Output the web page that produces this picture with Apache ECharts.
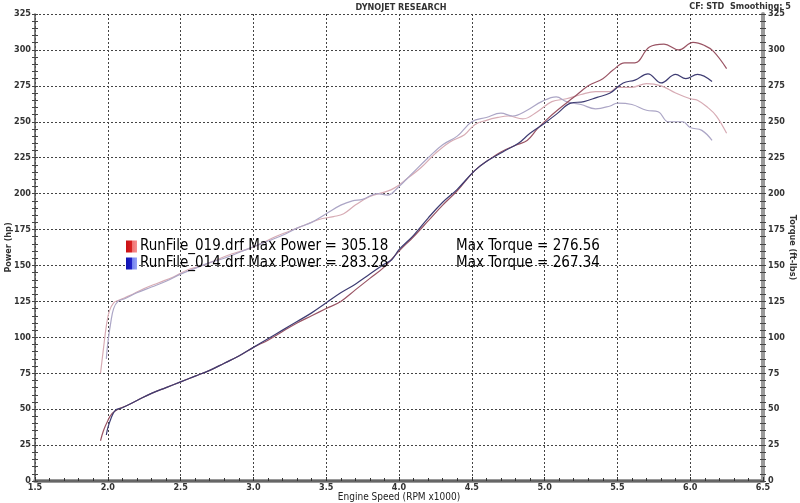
<!DOCTYPE html>
<html><head><meta charset="utf-8">
<script src="https://cdn.jsdelivr.net/npm/echarts@6/dist/echarts.min.js"></script>
<style>html,body{margin:0;padding:0;background:#fff}#c{width:800px;height:503px}</style>
</head><body><div id="c"></div>
<script>
const runNames = ['RunFile_019.drf', 'RunFile_014.drf'];
const maxPower = ['305.18', '283.28'];
const maxTorque = ['276.56', '267.34'];

const power019Rpm = [1.95,1.97,2.0,2.03,2.07,2.12,2.2,2.3,2.4,2.5,2.6,2.7,2.8,2.9,3.0,3.1,3.2,3.3,3.4,3.5,3.6,3.7,3.8,3.9,4.0,4.1,4.2,4.3,4.4,4.52,4.61,4.7,4.81,4.88,4.95,5.02,5.1,5.2,5.3,5.4,5.47,5.55,5.62,5.72,5.82,5.92,6.02,6.1,6.16,6.25];
const power019Hp  = [28,35,42,47,50,52,56,61,65,69,73,77,82,87,93,98,104,110,115,120,125,133,141,149,160,170,181,192,202,216,223,229,234,237,245,252,259,267,275,280,286,291,291,302,304,300,305.2,303,299,287];

const power014Rpm = [1.99,2.0,2.02,2.05,2.1,2.2,2.3,2.4,2.5,2.6,2.7,2.8,2.9,3.0,3.1,3.2,3.3,3.4,3.5,3.6,3.7,3.8,3.9,3.95,4.0,4.1,4.2,4.3,4.4,4.52,4.61,4.73,4.82,4.9,5.0,5.09,5.18,5.27,5.36,5.45,5.54,5.62,5.71,5.8,5.9,5.97,6.05,6.15];
const power014Hp  = [32,37,43,49,51,56,61,65,69,73,77,82,87,93,99,105,111,117,124,131,137,144,151,154,161,171,183,194,203,216,223,230,235,242,249,256,263,264,267,270,277,279,283.3,277,283,280,283,278];

const torque019Rpm = [1.95,1.97,1.99,2.01,2.04,2.08,2.15,2.25,2.35,2.45,2.55,2.65,2.75,2.85,2.95,3.05,3.15,3.25,3.35,3.45,3.55,3.62,3.7,3.8,3.9,3.97,4.05,4.15,4.25,4.35,4.45,4.52,4.6,4.68,4.75,4.85,4.95,5.05,5.15,5.25,5.35,5.45,5.5,5.6,5.7,5.8,5.9,6.0,6.05,6.12,6.18,6.25];
const torque019Ft  = [75,92,108,118,124,126,129,134,138,142,147,150,154,158,161,165,170,174,178,182,184,186,192,198,201,204,210,218,228,236,241,248,251,253,254,252,257,264,266,269,271,271,274,274,276.6,275,270,266,265,260,254,242];

const torque014Rpm = [1.99,2.0,2.02,2.04,2.07,2.12,2.2,2.3,2.4,2.5,2.6,2.7,2.8,2.9,3.0,3.1,3.2,3.3,3.4,3.5,3.6,3.68,3.75,3.85,3.92,4.0,4.08,4.2,4.3,4.4,4.5,4.6,4.7,4.78,4.88,4.98,5.08,5.15,5.25,5.35,5.45,5.5,5.6,5.7,5.78,5.85,5.95,6.0,6.08,6.15];
const torque014Ft  = [85,96,110,120,125,127,131,135,139,144,148,152,155,159,163,167,171,176,180,186,192,195,196,200,199,205,213,225,234,240,250,253,256,254,258,264,267.3,264,262,259,261,263,262,258,257,250,250,246,244,237];

const xTicks = {min: 1.5, max: 6.5, step: 0.5};
const yTicks = {min: 0, max: 325, step: 25};

function pairs(xs, ys) { return xs.map((x, i) => [x, ys[i]]); }

const small = {fontFamily: "'DejaVu Sans Condensed','DejaVu Sans',sans-serif", fontWeight: 'bold', fontSize: 9, color: '#333'};
const gridLine = {show: true, lineStyle: {color: '#444', width: 1, type: [2, 2]}};

const chart = echarts.init(document.getElementById('c'), null, {renderer: 'canvas'});
const option = {
  backgroundColor: '#fff',
  animation: false,
  title: [
    {text: 'DYNOJET RESEARCH', left: 396, textAlign: 'center', top: -2, textStyle: Object.assign({}, small, {fontSize: 9})},
    {text: 'CF: STD  Smoothing: 5', right: 4, top: -3, textStyle: Object.assign({}, small, {fontSize: 9})}
  ],
  grid: {left: 35, right: 37, top: 14, bottom: 22, containLabel: false, outerBoundsMode: 'none'},
  legend: {
    orient: 'vertical', left: 121, top: 234, itemGap: 2, itemWidth: 11, itemHeight: 12, icon: 'rect',
    data: [
      {name: runNames[0], itemStyle: {color: new echarts.graphic.LinearGradient(0,0,1,0,[{offset:0,color:'#c80f14'},{offset:0.5,color:'#d82020'},{offset:0.55,color:'#f07070'},{offset:1,color:'#f59090'}])}},
      {name: runNames[1], itemStyle: {color: new echarts.graphic.LinearGradient(0,0,1,0,[{offset:0,color:'#0f14b0'},{offset:0.5,color:'#2020c8'},{offset:0.55,color:'#7080f0'},{offset:1,color:'#98a4f5'}])}}
    ],
    formatter: function (name) {
      const i = runNames.indexOf(name);
      return '{a|' + name + ' Max Power = ' + maxPower[i] + '}{b|Max Torque = ' + maxTorque[i] + '}';
    },
    textStyle: {
      fontFamily: "'DejaVu Sans Condensed','DejaVu Sans',sans-serif", fontSize: 15, color: '#000', padding: [0,0,0,-2],
      rich: {
        a: {fontFamily: "'DejaVu Sans Condensed','DejaVu Sans',sans-serif", fontSize: 15, color: '#000', width: 316},
        b: {fontFamily: "'DejaVu Sans Condensed','DejaVu Sans',sans-serif", fontSize: 15, color: '#000'}
      }
    }
  },
  xAxis: [
    {type: 'value', min: xTicks.min, max: xTicks.max, interval: xTicks.step, position: 'bottom',
     name: 'Engine Speed (RPM x1000)', nameLocation: 'middle', nameGap: 11, nameMoveOverlap: false,
     nameTextStyle: Object.assign({}, small, {fontSize: 10, fontWeight: 'normal', color: '#222'}),
     axisLine: {lineStyle: {color: '#9a9a9a', width: 4}},
     axisTick: {inside: true, length: 4, lineStyle: {color: '#333'}},
     minorTick: {show: true, splitNumber: 5, length: 3, lineStyle: {color: '#333'}},
     axisLabel: Object.assign({}, small, {margin: 2, formatter: v => v.toFixed(1)}),
     splitLine: gridLine},
    {type: 'value', min: xTicks.min, max: xTicks.max, interval: xTicks.step, position: 'top',
     axisLine: {lineStyle: {color: '#555', width: 1.5}}, axisTick: {show: false}, axisLabel: {show: false}, splitLine: {show: false}}
  ],
  yAxis: [
    {type: 'value', min: yTicks.min, max: yTicks.max, interval: yTicks.step, position: 'left',
     name: 'Power (hp)', nameLocation: 'middle', nameGap: 22, nameRotate: 90, nameMoveOverlap: false,
     nameTextStyle: Object.assign({}, small, {fontSize: 9}),
     axisLine: {lineStyle: {color: '#555', width: 1.5}},
     axisTick: {length: 3, lineStyle: {color: '#444'}},
     minorTick: {show: true, splitNumber: 5, length: 3, lineStyle: {color: '#444'}},
     axisLabel: Object.assign({}, small, {margin: 4}),
     splitLine: gridLine},
    {type: 'value', min: yTicks.min, max: yTicks.max, interval: yTicks.step, position: 'right',
     name: 'Torque (ft-lbs)', nameLocation: 'middle', nameGap: 25, nameRotate: -90, nameMoveOverlap: false,
     nameTextStyle: Object.assign({}, small, {fontSize: 9}),
     axisLine: {lineStyle: {color: '#9a9a9a', width: 4}},
     axisTick: {length: 3, lineStyle: {color: '#444'}},
     minorTick: {show: true, splitNumber: 5, length: 3, lineStyle: {color: '#444'}},
     axisLabel: Object.assign({}, small, {margin: 5}),
     splitLine: {show: false}},
    {type: 'value', min: yTicks.min, max: yTicks.max, interval: yTicks.step, position: 'left',
     axisLine: {show: false}, axisTick: {inside: true, length: 3, lineStyle: {color: '#444'}},
     minorTick: {show: true, splitNumber: 5, length: 3, lineStyle: {color: '#444'}},
     axisLabel: {show: false}, splitLine: {show: false}},
    {type: 'value', min: yTicks.min, max: yTicks.max, interval: yTicks.step, position: 'right',
     axisLine: {show: false}, axisTick: {inside: true, length: 3, lineStyle: {color: '#444'}},
     minorTick: {show: true, splitNumber: 5, length: 3, lineStyle: {color: '#444'}},
     axisLabel: {show: false}, splitLine: {show: false}}
  ],
  series: [
    {name: 'Torque 019', type: 'line', yAxisIndex: 1, data: pairs(torque019Rpm, torque019Ft), smooth: 0.4, showSymbol: false, lineStyle: {color: '#d7abb4', width: 1.2}, itemStyle: {color: '#d7abb4'}},
    {name: 'Torque 014', type: 'line', yAxisIndex: 1, data: pairs(torque014Rpm, torque014Ft), smooth: 0.4, showSymbol: false, lineStyle: {color: '#aca6c6', width: 1.2}, itemStyle: {color: '#aca6c6'}},
    {name: runNames[0], type: 'line', yAxisIndex: 0, data: pairs(power019Rpm, power019Hp), smooth: 0.4, showSymbol: false, lineStyle: {color: '#9a5464', width: 1.2}, itemStyle: {color: '#9a5464'}},
    {name: runNames[1], type: 'line', yAxisIndex: 0, data: pairs(power014Rpm, power014Hp), smooth: 0.4, showSymbol: false, lineStyle: {color: '#3e3c72', width: 1.2}, itemStyle: {color: '#3e3c72'}}
  ]
};
chart.setOption(option);
</script>
</body></html>
